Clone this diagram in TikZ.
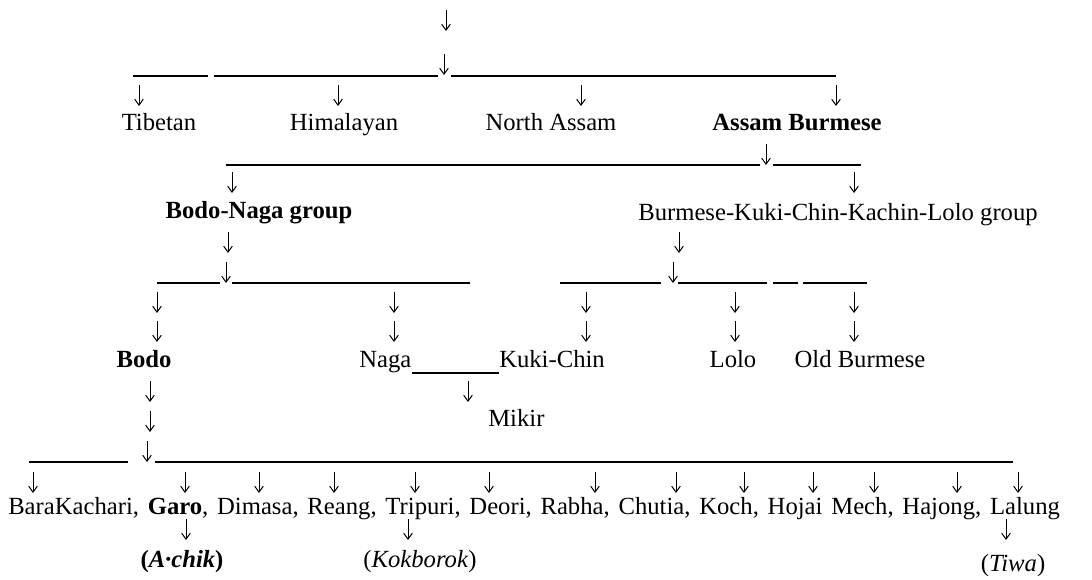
\documentclass[tikz,border=0pt]{standalone}
\usepackage{fontspec}
\setmainfont{Liberation Serif}
\usetikzlibrary{arrows.meta}
\tikzset{
  darrow/.style={-{Straight Barb[length=4.5pt,width=6.5pt]},line width=0.75pt},
  hrule/.style={line width=0.8pt},
  lang/.style={inner sep=0pt,font=\fontsize{18.5}{22}\selectfont}
}
\begin{document}
\begin{tikzpicture}[x=0.75pt,y=0.75pt,yscale=-1,xscale=1]
        \useasboundingbox (0,0) rectangle (1092,580);

        %Arrows (tip at y+21)
        \foreach \x/\y in {446/10,444/54,
                139/85,338/85,581/85,836/85,
                766/144,232/172,854/172,
                228/232,226/262,679/232,673/262,
                157/292,157/321,394/292,394/321,586/292,586/321,735/292,735/321,854/292,854/321,
                150/381,150/411,147/441,468/381,
                186/519,408/519,1006/519}
          \draw[darrow] (\x,\y) -- (\x,\y+21);
        % Arrows into the bottom row
        \foreach \x in {33,185,259,334,415,489,595,676,744,813,874,957,1018}
          \draw[darrow] (\x,472) -- (\x,493);

        %Straight Lines
        \draw[hrule] (133,76) -- (208,76) (214,76) -- (438,76) (451,76) -- (836,76);
        \draw[hrule] (226,165) -- (760,165) (773,165) -- (861,165);
        \draw[hrule] (157,283) -- (220,283) (232,283) -- (470,283);
        \draw[hrule] (560,283) -- (661,283) (678,283) -- (767,283) (773,283) -- (798,283) (803,283) -- (867,283);
        \draw[hrule] (29,462) -- (128,462) (155,462) -- (1013,462);

        % Text Node
        \node[lang,anchor=base] (tibetan) at (159,131) {Tibetan};
        \node[lang,anchor=base] (himalayan) at (344,131) {Himalayan};
        \node[lang,anchor=base] (northassam) at (551,131) {North Assam};
        \node[lang,anchor=base] (assamburmese) at (797,131) {\textbf{Assam Burmese}};
        % Text Node
        \node[lang,anchor=base] (bodonaga) at (259,219) {\textbf{Bodo-Naga group}};
        \node[lang,anchor=base] (bkckl) at (838,221) {Burmese-Kuki-Chin-Kachin-Lolo group};
        % Text Node
        \node[lang,anchor=base] (bodo) at (144,368) {\textbf{Bodo}};
        \node[lang,anchor=base west] (naga) at (359,368) {Naga};
        \node[lang,anchor=base west] (kukichin) at (499,368) {Kuki-Chin};
        \draw[hrule] (naga.base east) ++(0,5) coordinate (ul) -- (kukichin.base west |- ul);
        \node[lang,anchor=base] (lolo) at (733,368) {Lolo};
        \node[lang,anchor=base] (oldburmese) at (860,368) {Old Burmese};
        \node[lang,anchor=base west] (mikir) at (488,427) {Mikir};
        % Text Node
        \node[lang,anchor=base west] (branches) at (8,514) {\spaceskip=6.6pt BaraKachari, \textbf{Garo}, Dimasa, Reang, Tripuri, Deori, Rabha, Chutia, Koch, Hojai Mech, Hajong, Lalung};
        \node[lang,anchor=base] (achik) at (182,567) {\textbf{(\textit{A·chik})}};
        \node[lang,anchor=base] (kokborok) at (420,567) {(\textit{Kokborok})};
        \node[lang,anchor=base] (tiwa) at (1013,571) {(\textit{Tiwa})};

\end{tikzpicture}
\end{document}
